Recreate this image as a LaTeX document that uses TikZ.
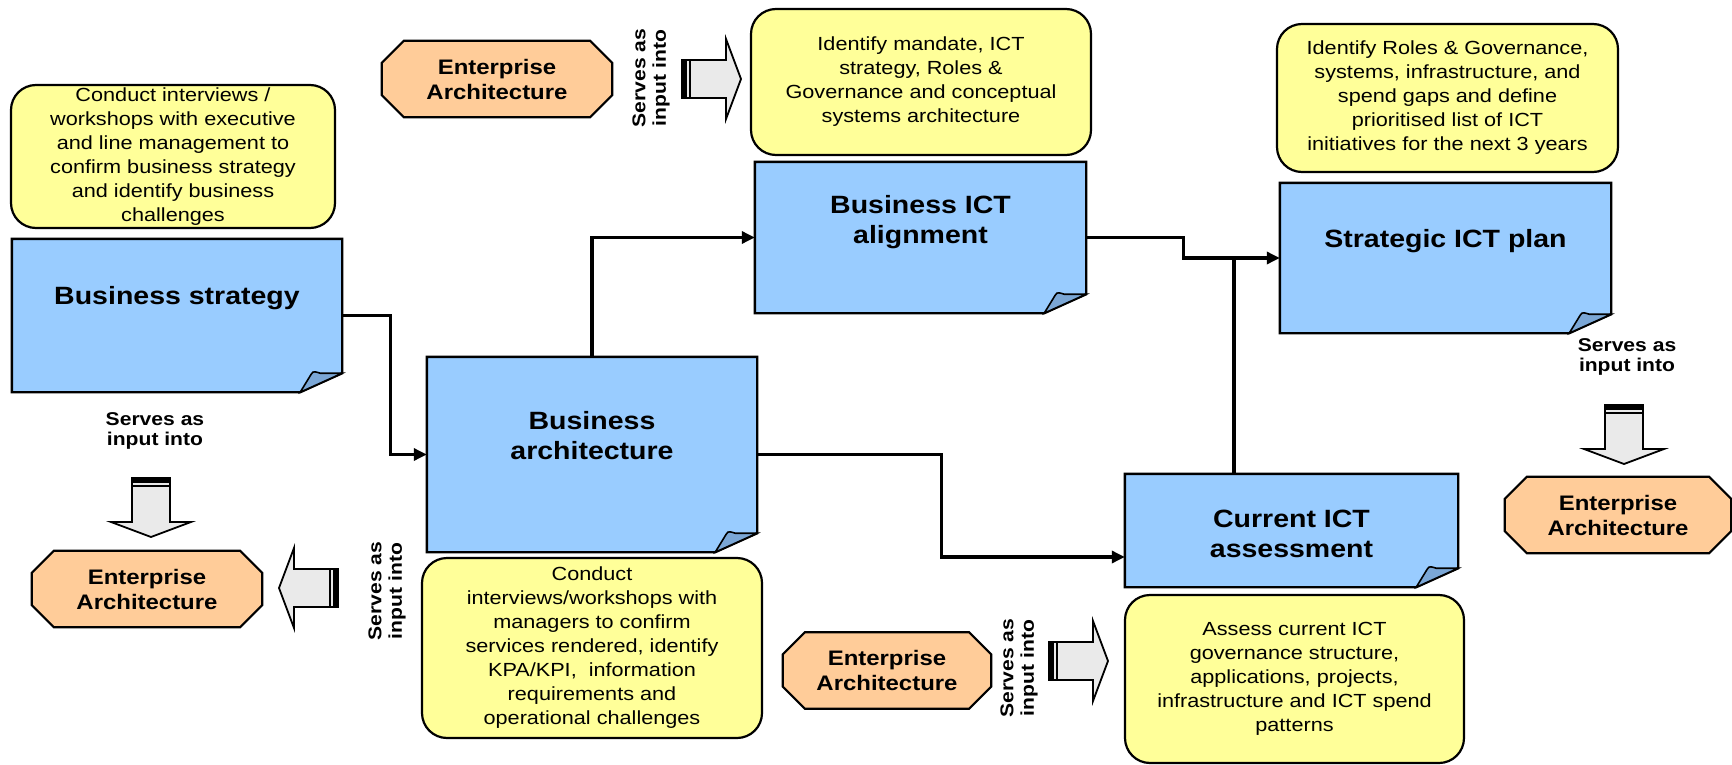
\documentclass[tikz,border=0pt]{standalone}
\usepackage{fontspec}
\setmainfont{Liberation Sans}[FakeStretch=1.14]
\usetikzlibrary{arrows.meta,backgrounds}
\definecolor{noteblue}{HTML}{99CCFF}
\definecolor{foldblue}{HTML}{7BA7D6}
\definecolor{taskyellow}{HTML}{FFFF99}
\definecolor{eaorange}{HTML}{FFCC99}
\definecolor{arrowgray}{HTML}{EAEAEA}
\begin{document}
\begin{tikzpicture}[
  x=1pt, y=-1pt,
  note/.style={inner sep=0pt, minimum width=330pt},
  title/.style={font=\fontsize{25}{30}\selectfont\bfseries, align=center},
  task/.style={rectangle, rounded corners=25pt, draw, line width=2.2pt, fill=taskyellow, align=center, inner sep=0pt, minimum width=340pt, font=\fontsize{19}{24}\selectfont},
  ea/.style={align=center, inner sep=0pt, minimum width=230pt, minimum height=76pt, font=\fontsize{21}{25}\selectfont\bfseries},
  serves/.style={align=center, inner sep=0pt, font=\fontsize{18.5}{20.5}\selectfont\bfseries},
  flow/.style={line width=3.2pt, -{Triangle[length=13pt,width=12pt]}},
  pics/blockarrow/.style={code={
    \filldraw[fill=arrowgray, line width=1.8pt, line join=miter] (0,-19) -- (44,-19) -- (44,-40) -- (59,0) -- (44,40) -- (44,19) -- (0,19) -- cycle;
    \fill (0,-19) rectangle (5,19);
    \fill (7,-19) rectangle (9,19);
  }}
]
\useasboundingbox (0,0) rectangle (1732,765);

\node[note, minimum height=153pt, label={[title, yshift=17pt]center:Business strategy}] (strat) at (177,315.5) {};
\node[note, minimum height=195pt, label={[title, yshift=19pt]center:Business\\architecture}] (arch) at (592,454.5) {};
\node[note, minimum width=331pt, minimum height=151pt, label={[title, yshift=15pt]center:Business ICT\\alignment}] (align) at (920.5,237.5) {};
\node[note, minimum width=331pt, minimum height=150pt, label={[title, yshift=17pt]center:Strategic ICT plan}] (plan) at (1445.5,258) {};
\node[note, minimum width=333pt, minimum height=113pt, label={[title, yshift=-3pt]center:Current ICT\\assessment}] (assess) at (1291.5,530.5) {};

\node[task, minimum width=324pt, minimum height=143pt] (strattask) at (173,156.5) {Conduct interviews /\\workshops with executive\\and line management to\\confirm business strategy\\and identify business\\challenges};
\node[task, minimum height=146pt] (aligntask) at (921,82) {Identify mandate, ICT\\strategy, Roles \&\\Governance and conceptual\\systems architecture};
\node[task, minimum width=341pt, minimum height=148pt] (plantask) at (1447.5,98) {Identify Roles \& Governance,\\systems, infrastructure, and\\spend gaps and define\\prioritised list of ICT\\initiatives for the next 3 years};
\node[task, minimum height=180pt] (archtask) at (592,648) {Conduct\\interviews/workshops with\\managers to confirm\\services rendered, identify\\KPA/KPI,\ \ information\\requirements and\\operational challenges};
\node[task, minimum width=339pt, minimum height=168pt] (assesstask) at (1294.5,679) {Assess current ICT\\governance structure,\\applications, projects,\\infrastructure and ICT spend\\patterns};

\node[ea] (eatop) at (497,79) {Enterprise\\Architecture};
\node[ea] (ealeft) at (147,589) {Enterprise\\Architecture};
\node[ea, minimum width=226pt] (earight) at (1618,515) {Enterprise\\Architecture};
\node[ea, minimum width=208pt] (eabottom) at (887,670.5) {Enterprise\\Architecture};

\begin{scope}[on background layer]
\foreach \n in {strat,arch,align,plan,assess} {
  \filldraw[fill=noteblue, line width=2.4pt] (\n.north west) -- (\n.north east) -- ([yshift=19pt]\n.south east) -- ([xshift=-42pt]\n.south east) -- (\n.south west) -- cycle;
  \filldraw[fill=foldblue, line width=1.6pt] ([xshift=-42pt]\n.south east) -- ([xshift=-31pt,yshift=18pt]\n.south east) .. controls ([xshift=-29pt,yshift=22pt]\n.south east) and ([xshift=-26pt,yshift=20pt]\n.south east) .. ([xshift=-22pt,yshift=19pt]\n.south east) -- ([yshift=19pt]\n.south east) -- cycle;
}
\foreach \n in {eatop,ealeft,earight,eabottom}
  \filldraw[fill=eaorange, line width=2.2pt] ([xshift=22pt]\n.north west) -- ([xshift=-22pt]\n.north east) -- ([yshift=-22pt]\n.north east) -- ([yshift=22pt]\n.south east) -- ([xshift=-22pt]\n.south east) -- ([xshift=22pt]\n.south west) -- ([yshift=22pt]\n.south west) -- ([yshift=-22pt]\n.north west) -- cycle;
\end{scope}

\node[serves] (servesstrat) at (155,431) {Serves as\\input into};
\node[serves] (servesplan) at (1627,357) {Serves as\\input into};
\node[serves, rotate=90] (servesalign) at (651,78) {Serves as\\input into};
\node[serves, rotate=90] (servesarch) at (387,591) {Serves as\\input into};
\node[serves, rotate=90] (servesassess) at (1019,668) {Serves as\\input into};

\pic[rotate=-90] at (151,478) {blockarrow};
\pic at (682,79) {blockarrow};
\pic[rotate=180] at (338,588) {blockarrow};
\pic[rotate=-90] at (1624,405) {blockarrow};
\pic at (1049,661) {blockarrow};

\draw[flow] (strat.east) -- ++(48,0) |- (arch.west);
\draw[flow] (arch.north) |- (align.west);
\draw[flow] (arch.east) -- ++(184,0) |- ([yshift=-26.5pt]assess.west);
\draw[flow] (align.east) -- ++(97,0) |- (plan.west);
\coordinate (join) at ([xshift=-57.5pt]assess.north);
\draw[line width=3.2pt] (join) -- (join |- plan.west);
\end{tikzpicture}
\end{document}
